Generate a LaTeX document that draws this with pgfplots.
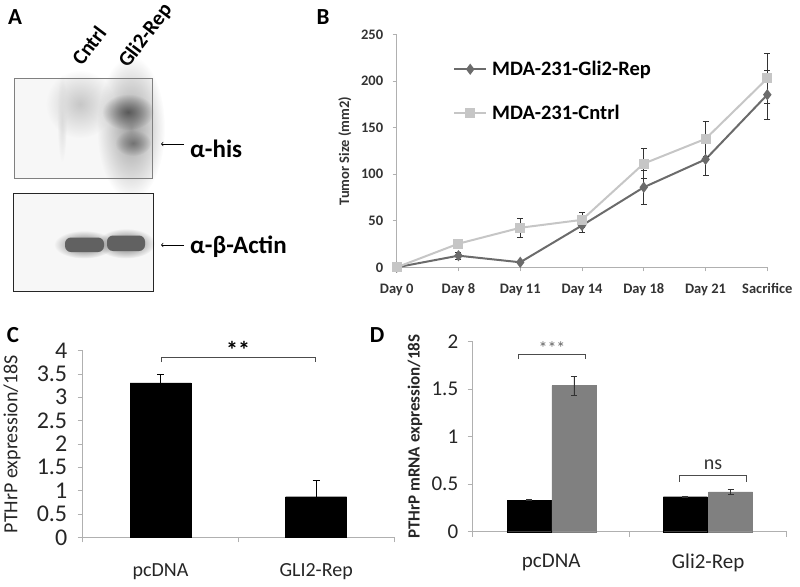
\documentclass[border=0pt]{standalone}
\usepackage{pgfplots}
\pgfplotsset{compat=1.18}
\usepackage{fontspec}
\setmainfont{Carlito}
\usetikzlibrary{fadings}
\tikzfading[name=fuzz, inner color=transparent!0, outer color=transparent!100]
\definecolor{gli}{HTML}{6B6B6B}
\definecolor{ctl}{HTML}{C6C6C6}
\definecolor{dgray}{HTML}{808080}
\definecolor{axg}{HTML}{B0B0B0}
\pgfplotsset{every axis/.append style={scale only axis, anchor=south west, clip=false,
  axis lines=left, axis line style={-, axg, line width=0.8pt}, tick style={axg, line width=0.8pt},
  tick align=outside, major tick length=5pt,
  /pgf/number format/assume math mode=true}}
\begin{document}
\begin{tikzpicture}
\path[use as bounding box] (0pt,0pt) rectangle (800pt,-586pt);
\begin{scope}[x=1pt,y=-1pt]
% ---------- Panel A ----------
\node[font=\bfseries\fontsize{23}{26}\selectfont] at (15,17) {A};
\node[font=\bfseries\fontsize{21}{24}\selectfont, rotate=53, anchor=base west, inner sep=0pt] at (82,67) {Cntrl};
\node[font=\bfseries\fontsize{21}{24}\selectfont, rotate=53, anchor=base west, inner sep=0pt] at (128,69) {Gli2-Rep};
% upper blot
\fill[black!3] (14,78) rectangle (152,178);
\fill[black!22, path fading=fuzz] (80,104) ellipse (34 and 34);
\fill[black!14, path fading=fuzz] (62,118) ellipse (5 and 44);
\fill[black!38, path fading=fuzz] (131,128) ellipse (34 and 72);
\fill[black!65, path fading=fuzz] (128,112) ellipse (26 and 18);
\fill[black!55, path fading=fuzz] (133,143) ellipse (18 and 13);
\draw[black!50, line width=0.8pt] (14,78) rectangle (152,178);
\draw[->, line width=0.7pt] (184,144) -- (161,144);
\node[font=\bfseries\fontsize{25}{28}\selectfont, anchor=base west, inner sep=0pt] at (190,157) {α-his};
% lower blot
\fill[black!3] (13,193) rectangle (153,291);
\fill[black!60, path fading=fuzz] (84,244.5) ellipse (30 and 14);
\fill[black!60, path fading=fuzz] (126,243.5) ellipse (29 and 15);
\fill[black!62, rounded corners=6pt] (65,237.5) rectangle (104,252);
\fill[black!62, rounded corners=6pt] (107,235.5) rectangle (145,251);
\draw[black!85, line width=0.8pt] (13,193) rectangle (153,291);
\draw[->, line width=0.7pt] (184,245) -- (161,245);
\node[font=\bfseries\fontsize{25}{28}\selectfont, anchor=base west, inner sep=0pt] at (190,253) {α-β-Actin};
% panel letters
\node[font=\bfseries\fontsize{23}{26}\selectfont] at (323,17) {B};
\node[font=\bfseries\fontsize{23}{26}\selectfont] at (13,335) {C};
\node[font=\bfseries\fontsize{23}{26}\selectfont] at (377,335) {D};
% C bracket
\draw[black!70, line width=0.9pt] (161.7,362) -- (161.7,357) -- (315,357) -- (315,362);
\node[font=\bfseries\fontsize{24}{26}\selectfont] at (238,350) {**};
% D brackets
\draw[black!70, line width=0.9pt] (518.3,359) -- (518.3,354) -- (585.7,354) -- (585.7,359);
\node[font=\fontsize{18}{20}\selectfont, text=black!60] at (552,348) {***};
\draw[black!70, line width=0.9pt] (679.3,481.7) -- (679.3,475.7) -- (746.7,475.7) -- (746.7,481.7);
\node[font=\fontsize{20}{22}\selectfont, text=black!80] at (713,465) {ns};
\end{scope}

% ---------- Panel B ----------
\begin{axis}[at={(396.7pt,-267.3pt)}, width=370.6pt, height=232.6pt,
  xmin=0, xmax=6, ymin=0, ymax=250,
  xtick={0,...,6}, xticklabels={Day 0,Day 8,Day 11,Day 14,Day 18,Day 21,Sacrifice},
  ytick={0,50,...,250}, major tick length=4pt,
  ticklabel style={font=\bfseries\fontsize{14.5}{16}\selectfont, text=black!80},
  xticklabel style={yshift=-11pt, text height=1.6ex, text depth=0.4ex},
  yticklabel style={xshift=-6pt},
  ylabel={Tumor Size (mm2)},
  ylabel style={at={(axis description cs:-0.14,0.5)}, anchor=center, font=\bfseries\fontsize{14.5}{16}\selectfont, text=black!80},
  legend style={at={(0.152,0.895)}, anchor=north west, draw=none, fill=none, inner sep=0pt,
    row sep=24pt, column sep=3pt, font=\bfseries\fontsize{20.5}{22}\selectfont},
  legend image code/.code={\draw[mark repeat=2, mark phase=2, #1] plot coordinates {(0pt,0pt) (16pt,0pt) (32pt,0pt)};},
  legend cell align=left,
  error bars/error bar style={black!80, line width=0.8pt},
  error bars/error mark options={rotate=90, mark size=3pt, black!80, line width=0.8pt}]
\addplot[gli, line width=2pt, mark=diamond*, mark size=4pt, mark options={fill=gli, draw=gli},
  error bars/.cd, y dir=both, y explicit] coordinates {
  (0,0) +- (0,0) (1,12.5) +- (0,4) (2,5.4) +- (0,0) (3,45) +- (0,8)
  (4,86) +- (0,18) (5,116) +- (0,17) (6,185.5) +- (0,26)};
\addlegendentry{MDA-231-Gli2-Rep}
\addplot[ctl, line width=2pt, mark=square*, mark size=4pt, mark options={fill=ctl, draw=ctl},
  error bars/.cd, y dir=both, y explicit] coordinates {
  (0,0) +- (0,0) (1,25.4) +- (0,4) (2,42.5) +- (0,10) (3,51) +- (0,8)
  (4,111.5) +- (0,16) (5,138) +- (0,19) (6,203) +- (0,27)};
\addlegendentry{MDA-231-Cntrl}
\end{axis}

% ---------- Panel C ----------
\begin{axis}[at={(82.7pt,-537.3pt)}, width=311.3pt, height=186.7pt,
  xmin=0, xmax=2, ymin=0, ymax=4,
  xtick={0,1,2}, xticklabels={pcDNA,GLI2-Rep}, x tick label as interval,
  ytick={0,0.5,...,4},
  yticklabel style={font=\fontsize{24}{26}\selectfont, text=black!85, xshift=-7pt},
  xticklabel style={font=\fontsize{20}{22}\selectfont, text=black!85, yshift=-18pt},
  ylabel={PTHrP expression/18S},
  ylabel style={at={(axis description cs:-0.227,0.5)}, anchor=center, font=\fontsize{20}{22}\selectfont, text=black!85},
  error bars/error bar style={black, line width=0.9pt},
  error bars/error mark options={rotate=90, mark size=3.5pt, black, line width=0.9pt}]
\addplot[ybar, bar shift=0pt, bar width=61pt, fill=black, draw=black,
  error bars/.cd, y dir=plus, y explicit] coordinates {
  (0.5,3.31) +- (0,0.17) (1.5,0.87) +- (0,0.34)};
\end{axis}

% ---------- Panel D ----------
\begin{axis}[at={(472.7pt,-531.7pt)}, width=314pt, height=190pt,
  xmin=0, xmax=2, ymin=0, ymax=2,
  xtick={0,1,2}, xticklabels={pcDNA,Gli2-Rep}, x tick label as interval,
  ytick={0,0.5,...,2},
  yticklabel style={font=\fontsize{21}{23}\selectfont, text=black!85, xshift=-6pt},
  xticklabel style={font=\fontsize{21}{23}\selectfont, text=black!85, yshift=-14pt},
  ylabel={PTHrP mRNA expression/18S},
  ylabel style={at={(axis description cs:-0.184,0.5)}, anchor=center, font=\bfseries\fontsize{17}{19}\selectfont, text=black!85},
  error bars/error bar style={black!80, line width=0.9pt},
  error bars/error mark options={rotate=90, mark size=3pt, black!80, line width=0.9pt}]
\addplot[ybar, bar shift=0pt, bar width=44pt, fill=black, draw=black,
  error bars/.cd, y dir=both, y explicit] coordinates {
  (0.36,0.333) +- (0,0.008) (1.355,0.368) +- (0,0.008)};
\addplot[ybar, bar shift=0pt, bar width=44pt, fill=dgray, draw=dgray,
  error bars/.cd, y dir=both, y explicit] coordinates {
  (0.645,1.537) +- (0,0.1) (1.643,0.418) +- (0,0.028)};
\end{axis}
\end{tikzpicture}
\end{document}
